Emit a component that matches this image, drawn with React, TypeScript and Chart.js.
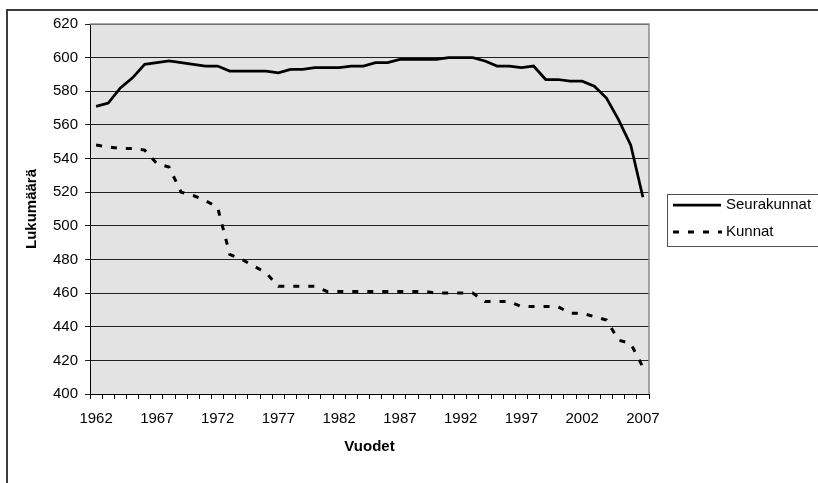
import React, { useEffect, useRef } from "react";
import { Chart, registerables } from "chart.js";

Chart.register(...registerables);

const years = [
  "1962", "1963", "1964", "1965", "1966", "1967", "1968", "1969", "1970", "1971",
  "1972", "1973", "1974", "1975", "1976", "1977", "1978", "1979", "1980", "1981",
  "1982", "1983", "1984", "1985", "1986", "1987", "1988", "1989", "1990", "1991",
  "1992", "1993", "1994", "1995", "1996", "1997", "1998", "1999", "2000", "2001",
  "2002", "2003", "2004", "2005", "2006", "2007",
];

const seurakunnat = [
  571, 573, 582, 588, 596, 597, 598, 597, 596, 595,
  595, 592, 592, 592, 592, 591, 593, 593, 594, 594,
  594, 595, 595, 597, 597, 599, 599, 599, 599, 600,
  600, 600, 598, 595, 595, 594, 595, 587, 587, 586,
  586, 583, 576, 563, 548, 517,
];

const kunnat = [
  548, 547, 546, 546, 545, 537, 535, 520, 518, 515,
  511, 483, 480, 476, 472, 464, 464, 464, 464, 461,
  461, 461, 461, 461, 461, 461, 461, 461, 460, 460,
  460, 460, 455, 455, 455, 452, 452, 452, 452, 448,
  448, 446, 444, 432, 430, 416,
];

const yTicks = { min: 400, max: 620, step: 20 };
const seriesNames = ["Seurakunnat", "Kunnat"];
const axisTitles = { x: "Vuodet", y: "Lukumäärä" };

const FONT = "'Liberation Sans', Arial, Helvetica, sans-serif";

const framePlugin = {
  id: "framePlugin",
  beforeDraw(chart: any) {
    const { ctx, chartArea: a } = chart;
    ctx.save();
    ctx.fillStyle = "#ffffff";
    ctx.fillRect(0, 0, chart.width, chart.height);
    ctx.strokeStyle = "#3c3c3c";
    ctx.lineWidth = 2;
    ctx.strokeRect(7, 10, 900, 900);
    ctx.fillStyle = "#e3e3e3";
    ctx.fillRect(a.left, a.top, a.right - a.left, a.bottom - a.top);
    ctx.restore();
  },
  afterDraw(chart: any) {
    const { ctx, chartArea: a } = chart;
    ctx.save();
    ctx.strokeStyle = "#8a8a8a";
    ctx.lineWidth = 1.5;
    ctx.beginPath();
    ctx.moveTo(a.left, a.top);
    ctx.lineTo(a.right, a.top);
    ctx.lineTo(a.right, a.bottom);
    ctx.stroke();

    const lx = 667.5, ly = 194.5, lw = 170, lh = 52;
    ctx.fillStyle = "#ffffff";
    ctx.fillRect(lx, ly, lw, lh);
    ctx.strokeStyle = "#505050";
    ctx.lineWidth = 1;
    ctx.strokeRect(lx, ly, lw, lh);

    const rows = [205, 232];
    ctx.strokeStyle = "#000";
    ctx.lineWidth = 2.75;
    ctx.setLineDash([]);
    ctx.beginPath();
    ctx.moveTo(673, rows[0]);
    ctx.lineTo(721, rows[0]);
    ctx.stroke();

    ctx.lineWidth = 3;
    ctx.setLineDash([6, 9]);
    ctx.beginPath();
    ctx.moveTo(673, rows[1]);
    ctx.lineTo(722, rows[1]);
    ctx.stroke();
    ctx.setLineDash([]);

    ctx.fillStyle = "#000";
    ctx.font = "15px " + FONT;
    ctx.textBaseline = "middle";
    ctx.textAlign = "left";
    ctx.fillText(seriesNames[0], 726, rows[0]);
    ctx.fillText(seriesNames[1], 726, rows[1]);
    ctx.restore();
  },
};

export default function App() {
  const ref = useRef<HTMLCanvasElement | null>(null);

  useEffect(() => {
    if (!ref.current) return;
    const chart = new Chart(ref.current, {
      type: "line",
      data: {
        labels: years,
        datasets: [
          {
            label: seriesNames[0],
            data: seurakunnat,
            borderColor: "#000",
            borderWidth: 2.75,
            pointRadius: 0,
            tension: 0,
            fill: false,
          },
          {
            label: seriesNames[1],
            data: kunnat,
            borderColor: "#000",
            borderWidth: 3,
            borderDash: [6, 9],
            pointRadius: 0,
            tension: 0,
            fill: false,
          },
        ],
      },
      options: {
        responsive: false,
        animation: false,
        devicePixelRatio: 1,
        layout: { padding: { left: 0, top: 24, right: 169, bottom: 0 } },
        plugins: {
          legend: { display: false },
          tooltip: { enabled: false },
        },
        scales: {
          x: {
            type: "category",
            offset: true,
            grid: {
              offset: true,
              drawOnChartArea: false,
              drawTicks: true,
              tickLength: 5,
              color: "#000",
            },
            border: { display: true, color: "#000", width: 1 },
            ticks: {
              autoSkip: false,
              maxRotation: 0,
              minRotation: 0,
              padding: 11,
              color: "#000",
              font: { family: FONT, size: 15 },
              callback: (_v: any, i: number) => (i % 5 === 0 ? years[i] : ""),
            },
            title: {
              display: true,
              text: axisTitles.x,
              color: "#000",
              font: { family: FONT, size: 15, weight: "bold" },
              padding: { top: 0, bottom: 27 },
            },
            afterFit: (s: any) => {
              s.height = 89;
            },
          },
          y: {
            min: yTicks.min,
            max: yTicks.max,
            grid: {
              color: "#222",
              lineWidth: 1,
              drawTicks: true,
              tickLength: 5,
            },
            border: { display: true, color: "#000", width: 1 },
            ticks: {
              stepSize: yTicks.step,
              padding: 7,
              color: "#000",
              font: { family: FONT, size: 15 },
            },
            title: {
              display: true,
              text: axisTitles.y,
              color: "#000",
              font: { family: FONT, size: 15, weight: "bold" },
              padding: { top: 23, bottom: 0 },
            },
            afterFit: (s: any) => {
              s.width = 90;
            },
          },
        },
      },
      plugins: [framePlugin],
    });
    return () => chart.destroy();
  }, []);

  return (
    <div style={{ position: "fixed", left: 0, top: 0, width: 818, height: 483, background: "#fff" }}>
      <canvas ref={ref} width={818} height={483} style={{ width: 818, height: 483, display: "block" }} />
    </div>
  );
}
